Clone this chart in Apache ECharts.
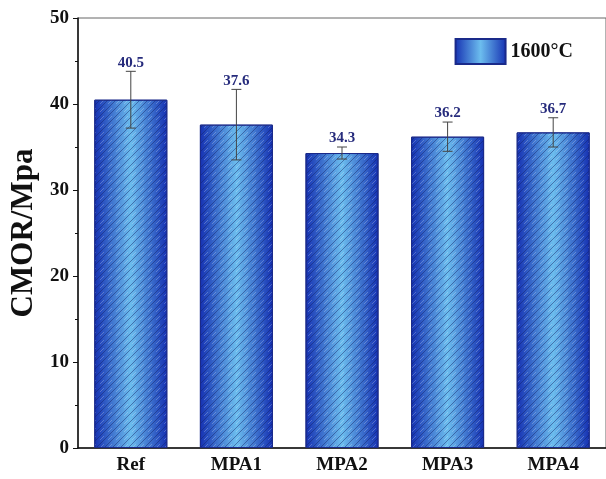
<!DOCTYPE html>
<html><head><meta charset="utf-8">
<script src="https://cdn.jsdelivr.net/npm/echarts@6/dist/echarts.min.js"></script>
<style>html,body{margin:0;padding:0;background:#fff}#c{width:606px;height:479px}</style>
</head><body><div id="c"></div>
<script>
var categories = ['Ref', 'MPA1', 'MPA2', 'MPA3', 'MPA4'];
var values = [40.5, 37.6, 34.3, 36.2, 36.7];
var errors = [3.3, 4.1, 0.7, 1.7, 1.7];
var legendName = '1600°C';
var yTicks = [0, 10, 20, 30, 40, 50];

var serif = 'Liberation Serif';
var barGrad = new echarts.graphic.LinearGradient(0, 0, 1, 0, [
  {offset: 0, color: '#1530b2'},
  {offset: 0.5, color: '#6cbdee'},
  {offset: 1, color: '#1530b2'}
]);
// diagonal hatch pattern (style only)
var pc = document.createElement('canvas');
pc.width = 8; pc.height = 8;
var g = pc.getContext('2d');
g.strokeStyle = 'rgba(15,30,100,0.45)';
g.lineWidth = 1;
g.beginPath(); g.moveTo(-1, 9); g.lineTo(9, -1); g.stroke();
g.strokeStyle = 'rgba(230,245,255,0.25)';
g.beginPath(); g.moveTo(-1, 13); g.lineTo(13, -1); g.stroke();
g.beginPath(); g.moveTo(-5, 5); g.lineTo(5, -5); g.stroke();

var chart = echarts.init(document.getElementById('c'));
chart.setOption({
  animation: false,
  grid: {left: 78, top: 18, width: 531, height: 430, show: true, borderColor: '#666', borderWidth: 1},
  legend: {
    data: [{name: legendName, icon: 'rect'}], right: 28, top: 33, itemWidth: 50, itemHeight: 25, itemGap: 7,
    textStyle: {fontFamily: serif, fontWeight: 'bold', fontSize: 20, color: '#111'}
  },
  xAxis: {
    type: 'category', data: categories,
    axisLine: {lineStyle: {color: '#111', width: 1.5}},
    axisTick: {show: false},
    axisLabel: {fontFamily: serif, fontWeight: 'bold', fontSize: 19, color: '#111', margin: 8}
  },
  yAxis: {
    type: 'value', min: yTicks[0], max: yTicks[yTicks.length - 1], interval: 10,
    name: 'CMOR/Mpa', nameLocation: 'middle', nameGap: 36,
    nameTextStyle: {fontFamily: serif, fontWeight: 'bold', fontSize: 31, color: '#111'},
    axisLine: {show: true, lineStyle: {color: '#111', width: 1.5}},
    axisTick: {show: true, length: 5, lineStyle: {color: '#111'}},
    minorTick: {show: true, splitNumber: 2, length: 3, lineStyle: {color: '#111'}},
    splitLine: {show: false},
    axisLabel: {fontFamily: serif, fontWeight: 'bold', fontSize: 19, color: '#111', margin: 9}
  },
  series: [{
    name: legendName, type: 'bar', data: values, barWidth: 73,
    itemStyle: {color: barGrad, borderColor: '#1a2a8a', borderWidth: 1}
  }, {
    name: 'hatch', type: 'bar', data: values, barWidth: 73, barGap: '-100%', silent: true,
    itemStyle: {color: {image: pc, repeat: 'repeat'}, borderColor: '#1a2a8a', borderWidth: 1}
  }, {
    type: 'custom',
    data: values.map(function (v, i) { return [i, v, errors[i]]; }),
    renderItem: function (params, api) {
      var i = api.value(0), v = api.value(1), e = api.value(2);
      var top = api.coord([i, v + e]);
      var bot = api.coord([i, v - e]);
      var w = 5;
      var st = {stroke: '#444', lineWidth: 1};
      return {type: 'group', children: [
        {type: 'line', shape: {x1: top[0], y1: top[1], x2: bot[0], y2: bot[1]}, style: st},
        {type: 'line', shape: {x1: top[0] - w, y1: top[1], x2: top[0] + w, y2: top[1]}, style: st},
        {type: 'line', shape: {x1: bot[0] - w, y1: bot[1], x2: bot[0] + w, y2: bot[1]}, style: st},
        {type: 'text', style: {text: v.toFixed(1), x: top[0], y: top[1] - 1, textAlign: 'center', textVerticalAlign: 'bottom',
          font: 'bold 15px "Liberation Serif"', fill: '#262b7c'}}
      ]};
    },
    z: 5
  }]
});
</script></body></html>
